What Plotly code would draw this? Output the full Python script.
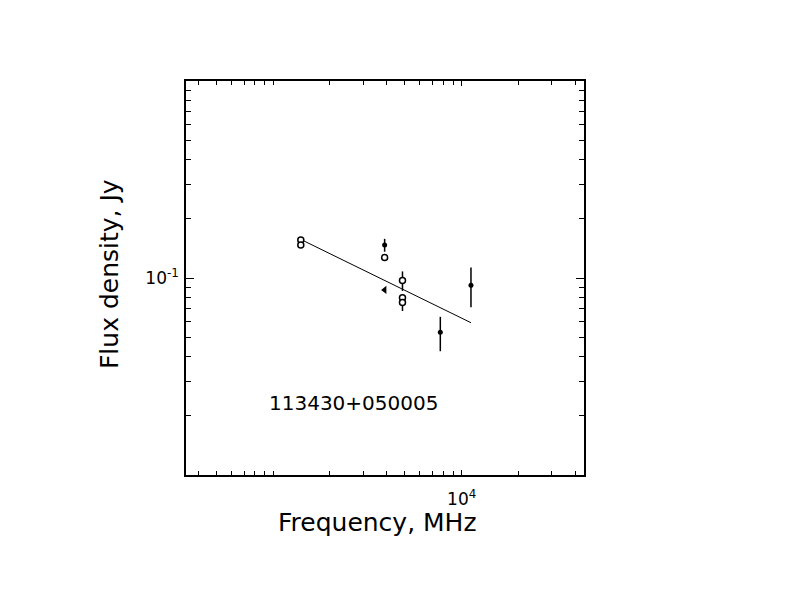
import plotly.graph_objects as go

# open circles (with / without errors)
open_freq = [1400, 1400, 3900, 4850, 4850, 4850]
open_flux = [0.156, 0.147, 0.127, 0.097, 0.0795, 0.0750]
open_err = [0, 0, 0, 0.011, 0, 0.007]

# filled dots
dot_freq = [3900, 7700, 11200]
dot_flux = [0.147, 0.053, 0.092]
dot_err = [0.011, 0.0105, 0.021]

# limit marker
lim_freq = [3900]
lim_flux = [0.087]

# power-law fit endpoints
fit_freq = [1400, 11200]
fit_flux = [0.157, 0.0593]

source_name = "113430+050005"

x_major = [10000]
x_major_text = ["10<sup>4</sup>"]
x_minor = [400, 500, 600, 700, 800, 900, 1000, 2000, 3000, 4000, 5000, 6000,
           7000, 8000, 9000, 20000, 30000, 40000]
y_major = [0.1]
y_major_text = ["10<sup>-1</sup>"]
y_minor = [0.02, 0.03, 0.04, 0.05, 0.06, 0.07, 0.08, 0.09,
           0.2, 0.3, 0.4, 0.5, 0.6, 0.7, 0.8, 0.9]

fig = go.Figure()

# fit line
fig.add_trace(go.Scatter(x=fit_freq, y=fit_flux, mode='lines',
                         line=dict(color='black', width=1), showlegend=False))

# filled points with error bars
fig.add_trace(go.Scatter(x=dot_freq, y=dot_flux, mode='markers',
                         marker=dict(symbol='circle', size=5, color='black'),
                         error_y=dict(type='data', array=dot_err, visible=True,
                                      color='black', thickness=1.5, width=0),
                         showlegend=False))

# open circles
fig.add_trace(go.Scatter(x=open_freq, y=open_flux, mode='markers',
                         marker=dict(symbol='circle', size=6, color='white',
                                     line=dict(color='black', width=1.5)),
                         error_y=dict(type='data', array=open_err, visible=True,
                                      color='black', thickness=1.5, width=0),
                         showlegend=False))

# limit arrow
fig.add_trace(go.Scatter(x=lim_freq, y=lim_flux, mode='markers',
                         marker=dict(symbol='triangle-left', size=7, color='black'),
                         showlegend=False))

axis_common = dict(
    type='log', showgrid=False, zeroline=False,
    showline=True, linecolor='black', linewidth=1.5, mirror='allticks',
    ticks='inside', tickcolor='black', tickwidth=1,
    tickfont=dict(family='DejaVu Sans', size=17, color='black'),
)

fig.update_xaxes(**axis_common, range=[2.537, 4.649],
                 tickmode='array', tickvals=x_major, ticktext=x_major_text, ticklen=5,
                 ticklabelstandoff=8,
                 minor=dict(tickmode='array', tickvals=x_minor, ticks='inside',
                            ticklen=4, tickcolor='black', tickwidth=1))
fig.update_yaxes(**axis_common, range=[-2, 0],
                 tickmode='array', tickvals=y_major, ticktext=y_major_text, ticklen=8,
                 ticklabelstandoff=2,
                 minor=dict(tickmode='array', tickvals=y_minor, ticks='inside',
                            ticklen=5, tickcolor='black', tickwidth=1))

fig.add_annotation(text='Frequency, MHz', xref='paper', yref='paper',
                   x=0.48, y=-0.12, yanchor='middle', showarrow=False,
                   font=dict(family='DejaVu Sans', size=25, color='black'))
fig.add_annotation(text='Flux density, Jy', xref='paper', yref='paper',
                   x=-0.235, y=0.51, textangle=-90, showarrow=False,
                   font=dict(family='DejaVu Sans', size=25, color='black'))
fig.add_annotation(text=source_name, xref='paper', yref='paper',
                   x=0.42, y=0.183, xanchor='center', yanchor='middle',
                   showarrow=False,
                   font=dict(family='DejaVu Sans', size=20, color='black'))

fig.update_layout(
    width=792, height=612,
    margin=dict(l=178, r=216, t=73, b=145),
    paper_bgcolor='white', plot_bgcolor='white',
)

fig.write_html("out.html")
